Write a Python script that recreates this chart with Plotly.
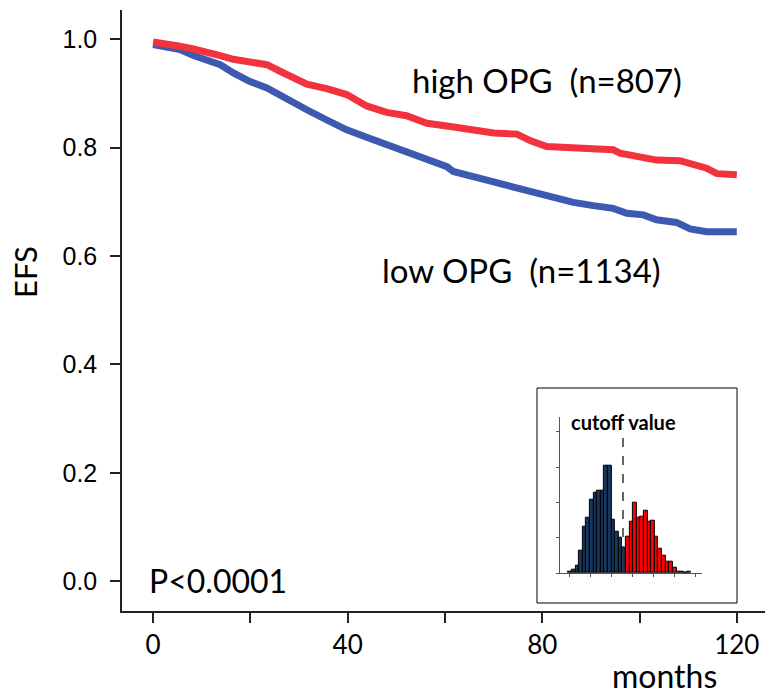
import plotly.graph_objects as go

# ---- Kaplan-Meier curves ----
months_high = [0, 2.8, 5.5, 8.3, 11, 13.8, 16.5, 19.9, 23.4, 26.1, 28.8, 31.6, 35.7, 39.8,
               43.9, 48.0, 52.1, 56.3, 60.4, 65.8, 70, 74.8, 77.5, 80.9, 86.4, 91.9, 94.6,
               96, 99.4, 103.5, 108.3, 111.1, 113.8, 115.9, 120]
efs_high = [0.995, 0.992, 0.987, 0.982, 0.977, 0.970, 0.963, 0.958, 0.953, 0.941, 0.929,
            0.917, 0.909, 0.898, 0.877, 0.865, 0.859, 0.845, 0.840, 0.832, 0.827, 0.825,
            0.813, 0.802, 0.800, 0.797, 0.796, 0.790, 0.784, 0.777, 0.776, 0.770, 0.762,
            0.752, 0.750]

months_low = [0, 2.8, 5.5, 8.3, 11, 13.8, 16.5, 19.9, 23.4, 26.1, 28.8, 31.6, 35.7, 39.8,
              43.9, 48.0, 52.1, 56.3, 60.4, 61.7, 65.8, 70, 74.1, 78.2, 82.3, 86.4, 90.5,
              94.6, 97.4, 100.8, 103.5, 107.6, 110.4, 113.8, 120]
efs_low = [0.990, 0.987, 0.981, 0.970, 0.963, 0.953, 0.938, 0.922, 0.910, 0.898, 0.885,
           0.870, 0.851, 0.833, 0.819, 0.805, 0.793, 0.777, 0.765, 0.756, 0.748, 0.737,
           0.727, 0.717, 0.709, 0.699, 0.693, 0.688, 0.679, 0.676, 0.667, 0.662, 0.650,
           0.645, 0.645]

x_tick_labels = [0, 40, 80, 120]
y_tick_values = [0.0, 0.2, 0.4, 0.6, 0.8, 1.0]

label_high = "high OPG  (n=807)"
label_low = "low OPG  (n=1134)"
p_text = "P<0.0001"

# ---- inset histogram (bin counts) ----
hist_low_counts = [1, 2, 5, 16, 33, 39, 52, 57, 58, 58, 76, 76, 38, 29, 25, 18]
hist_high_counts = [26, 36, 50, 39, 40, 44, 36, 37, 26, 17, 12, 8, 8, 4, 1, 1, 0, 1]
cutoff_bin = 15.2
inset_xticks = [0.3, 6.1, 11.9, 17.8, 23.7, 29.5, 35.4]
inset_yticks = [0, 25, 50, 75, 100]

RED = "#F2333E"
BLUE = "#3D5AB0"
NAVY = "#17365E"
HRED = "#FF0000"
CAL = "Lato, Roboto, sans-serif"
ARI = "Liberation Sans, Arial, sans-serif"

fig = go.Figure()
fig.add_trace(go.Scatter(x=months_low, y=efs_low, mode="lines",
                         line=dict(color=BLUE, width=7), showlegend=False))
fig.add_trace(go.Scatter(x=months_high, y=efs_high, mode="lines",
                         line=dict(color=RED, width=7), showlegend=False))

n_low = len(hist_low_counts)
bins_low = [i + 0.5 for i in range(n_low)]
bins_high = [n_low + i + 0.5 for i in range(len(hist_high_counts))]
fig.add_trace(go.Bar(x=bins_low, y=hist_low_counts, width=1, xaxis="x2", yaxis="y2",
                     marker=dict(color=NAVY, line=dict(color="black", width=1)),
                     showlegend=False))
fig.add_trace(go.Bar(x=bins_high, y=hist_high_counts, width=1, xaxis="x2", yaxis="y2",
                     marker=dict(color=HRED, line=dict(color="black", width=1)),
                     showlegend=False))

fig.update_layout(
    width=765, height=695,
    margin=dict(l=122, r=0, t=10, b=84),
    paper_bgcolor="white", plot_bgcolor="white",
    bargap=0,
    xaxis=dict(range=[-6.4, 125.8], showgrid=False, zeroline=False,
               showline=True, linecolor="#222", linewidth=1.5,
               ticks="outside", ticklen=10, tickwidth=1.5, tickcolor="#222",
               tickvals=x_tick_labels, ticktext=[str(v) for v in x_tick_labels],
               minor=dict(dtick=20, tick0=0, ticks="outside", ticklen=10,
                          tickwidth=1.5, tickcolor="#222", showgrid=False),
               tickfont=dict(family=CAL, size=26, color="black")),
    yaxis=dict(range=[-0.055, 1.054], showgrid=False, zeroline=False,
               showline=True, linecolor="#222", linewidth=1.5,
               ticks="outside", ticklen=10, tickwidth=1.5, tickcolor="#222",
               tickvals=y_tick_values, tickformat=".1f", ticklabelstandoff=8,
               tickfont=dict(family=ARI, size=25, color="black")),
    xaxis2=dict(domain=[0.681, 0.902], anchor="y2", range=[-2.3, 37.1],
                showgrid=False, zeroline=False, showline=True,
                linecolor="#555", linewidth=1, ticks="outside", ticklen=3,
                tickcolor="#555", tickvals=inset_xticks, showticklabels=False),
    yaxis2=dict(domain=[0.0632, 0.3233], anchor="x2", range=[0, 110.6],
                showgrid=False, zeroline=False, showline=True,
                linecolor="#555", linewidth=1, ticks="outside", ticklen=3,
                tickcolor="#555", tickvals=inset_yticks, showticklabels=False),
    shapes=[
        dict(type="rect", xref="paper", yref="paper", x0=0.6454, x1=0.9565,
             y0=0.0133, y1=0.371, line=dict(color="black", width=1), layer="below"),
        dict(type="line", xref="x2", yref="y2", x0=cutoff_bin, x1=cutoff_bin,
             y0=0, y1=102, line=dict(color="#333", width=1.5, dash="dash")),
    ],
    annotations=[
        dict(text=label_high, x=52.8, y=0.925, xref="x", yref="y", xanchor="left",
             yanchor="middle", showarrow=False, font=dict(family=CAL, size=33, color="black")),
        dict(text=label_low, x=46.7, y=0.574, xref="x", yref="y", xanchor="left",
             yanchor="middle", showarrow=False, font=dict(family=CAL, size=33, color="black")),
        dict(text=p_text, x=-1.2, y=0.002, xref="x", yref="y", xanchor="left",
             yanchor="middle", showarrow=False, font=dict(family=CAL, size=32, color="black")),
        dict(text="months", x=0.843, y=-0.108, xref="paper", yref="paper",
             xanchor="center", yanchor="middle", showarrow=False,
             font=dict(family=CAL, size=32, color="black")),
        dict(text="EFS", x=-0.151, y=0.564, xref="paper", yref="paper",
             xanchor="center", yanchor="middle", textangle=-90, showarrow=False,
             font=dict(family=CAL, size=31, color="black")),
        dict(text="<b>cutoff value</b>", x=cutoff_bin, y=106.6, xref="x2", yref="y2",
             xanchor="center", yanchor="middle", showarrow=False,
             font=dict(family=CAL, size=20, color="black")),
    ],
)

fig.write_html("out.html", config={"displayModeBar": False},
               post_script="document.body.style.margin='0px';"
                           "document.documentElement.style.overflow='hidden';"
                           "document.body.style.overflow='hidden';")
